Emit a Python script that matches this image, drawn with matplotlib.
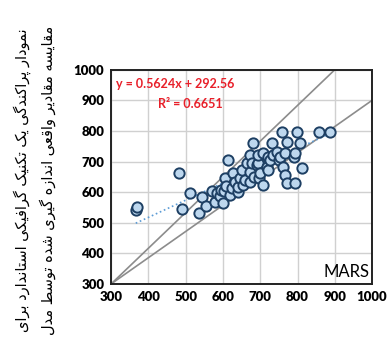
import matplotlib
matplotlib.use("Agg")
import matplotlib.pyplot as plt

measured = [366, 369, 483, 490, 512, 537, 543, 555, 570, 579, 583, 591, 595,
            601, 604, 606, 609, 614, 620, 624, 628, 632, 640, 641, 646, 650,
            655, 660, 664, 673, 673, 673, 677, 681, 684, 691, 695, 695, 696,
            700, 708, 708, 717, 722, 722, 727, 731, 735, 744, 749, 754, 758,
            762, 766, 766, 771, 771, 790, 793, 793, 798, 807, 811, 857, 886]
predicted = [542, 553, 664, 544, 596, 533, 583, 555, 604, 569, 596, 586, 607,
             563, 605, 645, 620, 705, 590, 612, 662, 634, 600, 618, 645, 672,
             624, 640, 695, 667, 634, 722, 694, 762, 651, 689, 694, 722, 646,
             662, 624, 727, 683, 716, 673, 705, 762, 722, 732, 705, 716, 798,
             683, 656, 727, 765, 629, 716, 629, 727, 795, 762, 678, 798, 798]

slope = 0.5624
intercept = 292.56
r2 = 0.6651

upper_x = [300, 900]
upper_y = [300, 1000]
lower_x = [300, 1000]
lower_y = [300, 900]

ticks = [300, 400, 500, 600, 700, 800, 900, 1000]

ylabel_1 = "نمودار پراکندگی یک تکنیک گرافیکی استاندارد برای"
ylabel_2 = "مقایسه مقادیر واقعی اندازه گیری شده توسط مدل"

# simple Arabic/Persian shaping (matplotlib has no shaping engine)
FORMS = {
    'ا': (0xFE8D, 0xFE8E), 'آ': (0xFE81, 0xFE82),
    'د': (0xFEA9, 0xFEAA), 'ذ': (0xFEAB, 0xFEAC), 'ر': (0xFEAD, 0xFEAE),
    'ز': (0xFEAF, 0xFEB0), 'ژ': (0xFB8A, 0xFB8B), 'و': (0xFEED, 0xFEEE),
    'ب': (0xFE8F, 0xFE90, 0xFE91, 0xFE92), 'پ': (0xFB56, 0xFB57, 0xFB58, 0xFB59),
    'ت': (0xFE95, 0xFE96, 0xFE97, 0xFE98), 'ث': (0xFE99, 0xFE9A, 0xFE9B, 0xFE9C),
    'ج': (0xFE9D, 0xFE9E, 0xFE9F, 0xFEA0), 'چ': (0xFB7A, 0xFB7B, 0xFB7C, 0xFB7D),
    'ح': (0xFEA1, 0xFEA2, 0xFEA3, 0xFEA4), 'خ': (0xFEA5, 0xFEA6, 0xFEA7, 0xFEA8),
    'س': (0xFEB1, 0xFEB2, 0xFEB3, 0xFEB4), 'ش': (0xFEB5, 0xFEB6, 0xFEB7, 0xFEB8),
    'ص': (0xFEB9, 0xFEBA, 0xFEBB, 0xFEBC), 'ض': (0xFEBD, 0xFEBE, 0xFEBF, 0xFEC0),
    'ط': (0xFEC1, 0xFEC2, 0xFEC3, 0xFEC4), 'ظ': (0xFEC5, 0xFEC6, 0xFEC7, 0xFEC8),
    'ع': (0xFEC9, 0xFECA, 0xFECB, 0xFECC), 'غ': (0xFECD, 0xFECE, 0xFECF, 0xFED0),
    'ف': (0xFED1, 0xFED2, 0xFED3, 0xFED4), 'ق': (0xFED5, 0xFED6, 0xFED7, 0xFED8),
    'ک': (0xFB8E, 0xFB8F, 0xFB90, 0xFB91), 'گ': (0xFB92, 0xFB93, 0xFB94, 0xFB95),
    'ل': (0xFEDD, 0xFEDE, 0xFEDF, 0xFEE0), 'م': (0xFEE1, 0xFEE2, 0xFEE3, 0xFEE4),
    'ن': (0xFEE5, 0xFEE6, 0xFEE7, 0xFEE8), 'ه': (0xFEE9, 0xFEEA, 0xFEEB, 0xFEEC),
    'ی': (0xFBFC, 0xFBFD, 0xFBFE, 0xFBFF),
}


def shape(text):
    out = []
    for i, ch in enumerate(text):
        if ch not in FORMS:
            out.append(ch)
            continue
        prev = text[i - 1] if i > 0 else ''
        nxt = text[i + 1] if i + 1 < len(text) else ''
        join_prev = prev in FORMS and len(FORMS[prev]) == 4
        join_next = len(FORMS[ch]) == 4 and nxt in FORMS
        f = FORMS[ch]
        if join_prev and join_next:
            out.append(chr(f[3]))
        elif join_prev:
            out.append(chr(f[1]))
        elif join_next:
            out.append(chr(f[2]))
        else:
            out.append(chr(f[0]))
    return ''.join(reversed(out))


plt.rcParams['font.family'] = ['Lato', 'DejaVu Sans']

fig = plt.figure(figsize=(3.9, 3.54), dpi=100)
ax = fig.add_axes([0.285, 0.198, 0.669, 0.605])

ax.set_xlim(300, 1000)
ax.set_ylim(300, 1000)
ax.set_xticks(ticks)
ax.set_yticks(ticks)
ax.grid(True, color='#d0d0d0', linewidth=1.0)
ax.set_axisbelow(True)
ax.tick_params(length=0, labelsize=9.5, pad=5)
for lab in ax.get_xticklabels() + ax.get_yticklabels():
    lab.set_fontweight('heavy')
for s in ax.spines.values():
    s.set_linewidth(1.4)
    s.set_color('#222222')

ax.plot(upper_x, upper_y, color='#8c8c8c', linewidth=1.2, zorder=2)
ax.plot(lower_x, lower_y, color='#8c8c8c', linewidth=1.2, zorder=2)

tx = [min(measured), max(measured)]
ty = [slope * v + intercept for v in tx]
ax.plot(tx, ty, color='#5b9bd5', linestyle=':', linewidth=1.2, zorder=2)

ax.scatter(measured, predicted, s=55, facecolor='#bdd7ee', edgecolor='#1d3f63',
           linewidth=1.4, zorder=3)

ax.text(312, 953, f"y = {slope}x + {intercept}", color='#e8202a', fontsize=9,
        fontweight='bold', va='center', ha='left')
ax.text(512, 888, f"R² = {r2}", color='#e8202a', fontsize=9,
        fontweight='bold', va='center', ha='center')
ax.text(992, 312, "MARS", color='black', fontsize=12, ha='right', va='bottom')

fig.text(0.056, 0.49, shape(ylabel_1), rotation=90, ha='center', va='center',
         fontsize=10.5, family=['DejaVu Sans'])
fig.text(0.123, 0.49, shape(ylabel_2), rotation=90, ha='center', va='center',
         fontsize=10.5, family=['DejaVu Sans'])

fig.savefig('out.png', dpi=100)
